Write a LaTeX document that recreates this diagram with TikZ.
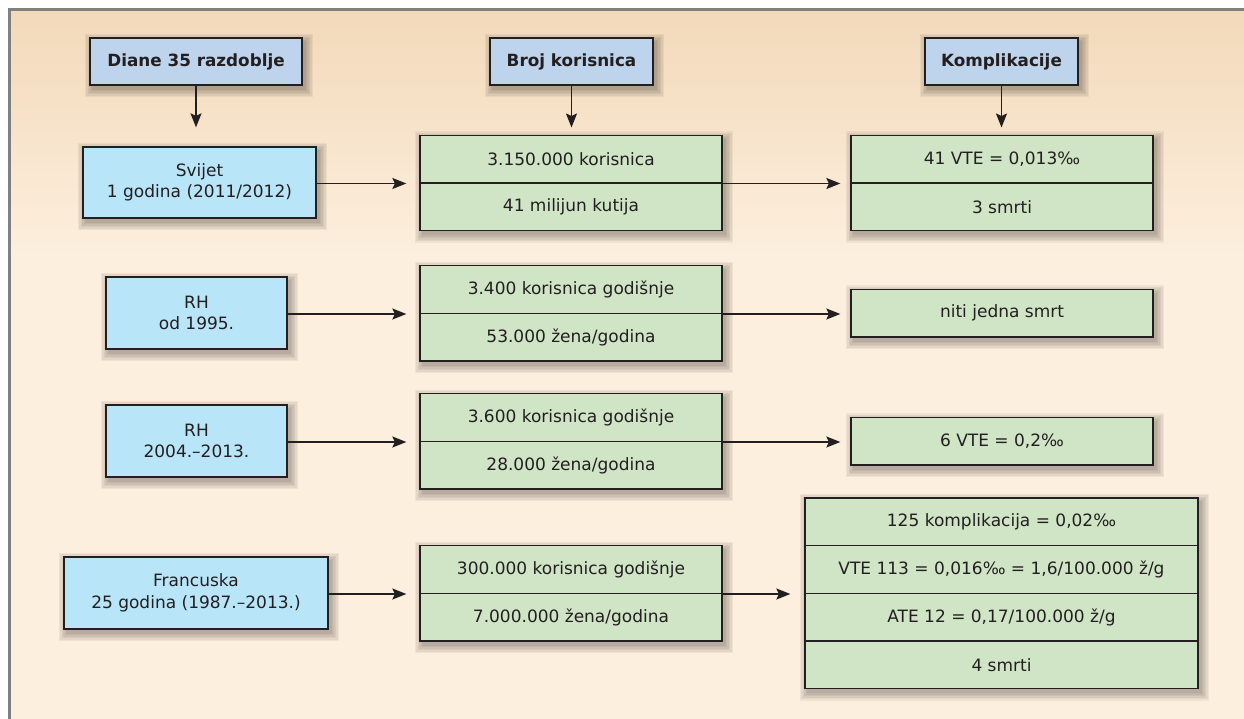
\documentclass[tikz,border=0pt]{standalone}
\usepackage{fontspec}
\setmainfont{DejaVu Sans}
\usetikzlibrary{arrows.meta}
\pgfdeclarelayer{bg}
\pgfdeclarelayer{sh}
\pgfsetlayers{bg,sh,main}
\definecolor{bgtop}{RGB}{242,217,186}
\definecolor{bgbot}{RGB}{253,239,222}
\definecolor{hdrfill}{RGB}{190,211,236}
\definecolor{srcfill}{RGB}{185,229,249}
\definecolor{grnfill}{RGB}{208,228,198}
\definecolor{ink}{RGB}{35,31,32}
\definecolor{framegray}{RGB}{128,128,128}
\tikzset{
  box/.style={draw=ink, line width=1.3pt, inner sep=0pt, align=center, text=ink, font=\fontsize{17}{21.5}\selectfont},
  hdr/.style={box, fill=hdrfill, minimum height=47pt, font=\bfseries\fontsize{16.8}{20}\selectfont},
  src/.style={box, fill=srcfill, minimum height=72pt},
  cell/.style={box, fill=grnfill, minimum height=47.7pt},
  arr/.style={draw=ink, line width=1.5pt, -{Stealth[length=14pt,width=11pt,inset=2.5pt]}},
  shadpiece/.style={fill=black, opacity=0.05}
}
\newcommand\mysoftshadow[2]{%
  \foreach \e in {0,1.5,3,4.5,6,7.5}{%
    \fill[shadpiece] ([shift={(3-\e,4-\e)}]#1) rectangle ([shift={(3+\e,4+\e)}]#2);
  }%
}
\begin{document}
\begin{tikzpicture}[x=1pt,y=-1pt]
\useasboundingbox (0,0) rectangle (1244,718);
% background
\begin{pgfonlayer}{bg}
\fill[white] (-5,-5) rectangle (1260,730);
\fill[bgbot] (9,9) rectangle (1260,730);
\foreach \i in {0,...,49}{
  \pgfmathsetmacro\p{2*\i}
  \fill[bgbot!\p!bgtop] (9,9+5*\i) rectangle (1260,14.6+5*\i);
}
\draw[framegray, line width=3pt] (9,730) -- (9,9) -- (1260,9);
\end{pgfonlayer}

% headers
\node[hdr, minimum width=212pt] (h1) at (196,61.5) {Diane 35 razdoblje};
\node[hdr, minimum width=163pt] (h2) at (571.5,61.5) {Broj korisnica};
\node[hdr, minimum width=153pt] (h3) at (1001.5,61.5) {Komplikacije};

% source boxes
\node[src, minimum width=233pt, minimum height=71pt] (s1) at (199.5,182.5) {Svijet\\1 godina (2011/2012)};
\node[src, minimum width=181pt] (s2) at (196.5,313) {RH\\od 1995.};
\node[src, minimum width=181pt] (s3) at (196.5,441) {RH\\2004.–2013.};
\node[src, minimum width=264pt] (s4) at (196,593) {Francuska\\25 godina (1987.–2013.)};

% user boxes
\node[cell, minimum width=302pt] (g1a) at (571,159) {3.150.000 korisnica};
\node[cell, minimum width=302pt] (g1b) at (571,206.7) {41 milijun kutija};
\node[cell, minimum width=302pt] (g2a) at (571,289.5) {3.400 korisnica godišnje};
\node[cell, minimum width=302pt] (g2b) at (571,337.2) {53.000 žena/godina};
\node[cell, minimum width=302pt] (g3a) at (571,417.5) {3.600 korisnica godišnje};
\node[cell, minimum width=302pt] (g3b) at (571,465.2) {28.000 žena/godina};
\node[cell, minimum width=302pt] (g4a) at (571,569.5) {300.000 korisnica godišnje};
\node[cell, minimum width=302pt] (g4b) at (571,617.2) {7.000.000 žena/godina};

% result boxes
\node[cell, minimum width=302pt] (r1a) at (1002,159) {41 VTE = 0,013‰};
\node[cell, minimum width=302pt] (r1b) at (1002,206.7) {3 smrti};
\node[cell, minimum width=302pt] (r2) at (1002,313) {niti jedna smrt};
\node[cell, minimum width=302pt] (r3) at (1002,441) {6 VTE = 0,2‰};
\node[cell, minimum width=393pt] (r4a) at (1001.5,521.7) {125 komplikacija = 0,02‰};
\node[cell, minimum width=393pt] (r4b) at (1001.5,569.4) {VTE 113 = 0,016‰ = 1,6/100.000 ž/g};
\node[cell, minimum width=393pt] (r4c) at (1001.5,617.1) {ATE 12 = 0,17/100.000 ž/g};
\node[cell, minimum width=393pt] (r4d) at (1001.5,664.8) {4 smrti};

% shadows
\begin{pgfonlayer}{sh}
\foreach \n in {h1,h2,h3,s1,s2,s3,s4,r2,r3}{
  \mysoftshadow{\n.north west}{\n.south east}
}
\mysoftshadow{g1a.north west}{g1b.south east}
\mysoftshadow{g2a.north west}{g2b.south east}
\mysoftshadow{g3a.north west}{g3b.south east}
\mysoftshadow{g4a.north west}{g4b.south east}
\mysoftshadow{r1a.north west}{r1b.south east}
\mysoftshadow{r4a.north west}{r4d.south east}
\end{pgfonlayer}

% arrows
\draw[arr, shorten >=19pt] (h1.south) -- (h1.south |- s1.north);
\draw[arr, shorten >=7pt] (h2.south) -- (h2.south |- g1a.north);
\draw[arr, shorten >=7pt] (h3.south) -- (h3.south |- r1a.north);
\draw[arr, shorten >=13pt] (s1.east |- g1a.south) -- (g1a.south west);
\draw[arr, shorten >=13pt] (s2.east |- g2a.south) -- (g2a.south west);
\draw[arr, shorten >=13pt] (s3.east |- g3a.south) -- (g3a.south west);
\draw[arr, shorten >=13pt] (s4.east |- g4a.south) -- (g4a.south west);
\draw[arr, shorten >=10pt] (g1a.south east) -- (r1a.south west);
\draw[arr, shorten >=10pt] (g2a.south east) -- (g2a.south east -| r2.west);
\draw[arr, shorten >=10pt] (g3a.south east) -- (g3a.south east -| r3.west);
\draw[arr, shorten >=14pt] (g4a.south east) -- (g4a.south east -| r4b.west);
\end{tikzpicture}
\end{document}
